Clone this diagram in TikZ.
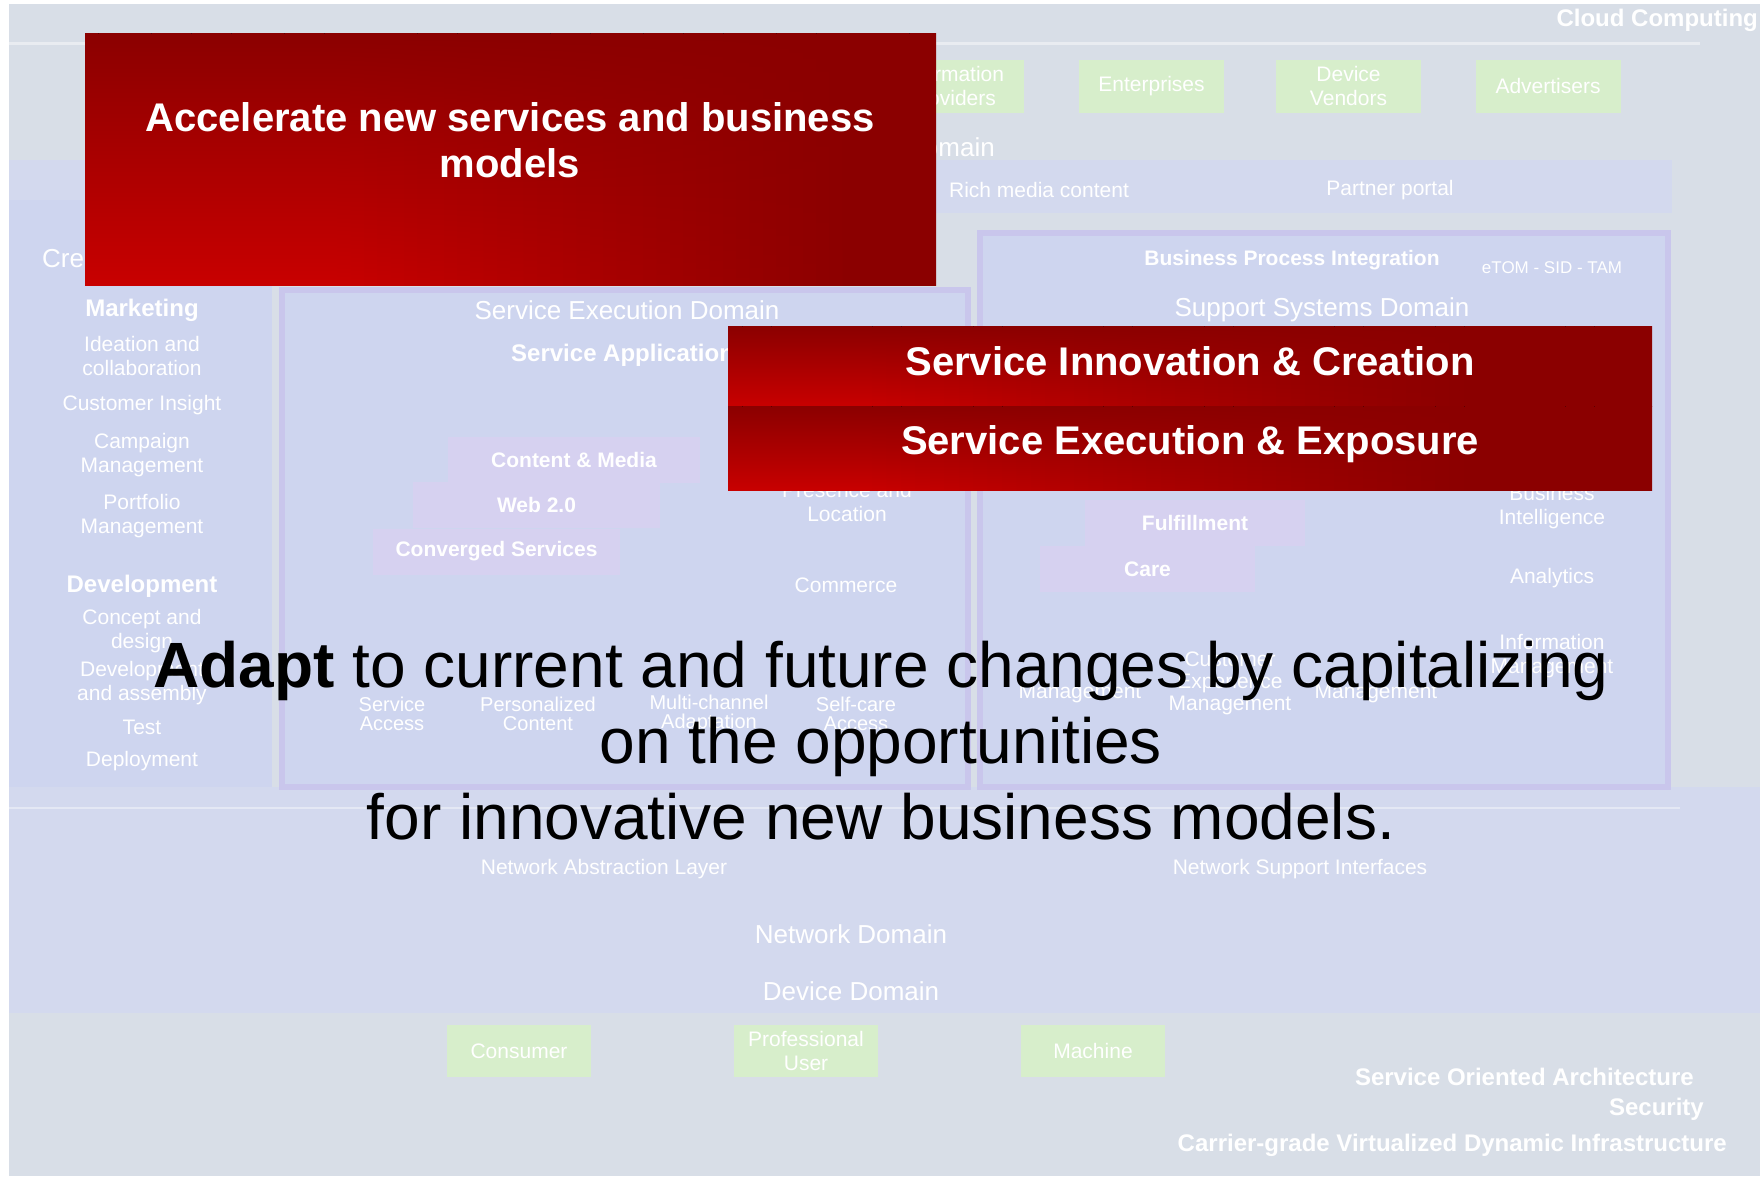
\documentclass[tikz,border=0pt]{standalone}
\usepackage{fontspec}
\setmainfont{Liberation Sans}
\usetikzlibrary{positioning,calc}

\definecolor{bggrey}{HTML}{D8DEE7}
\definecolor{bgblue}{HTML}{CED5EF}
\definecolor{bgband}{HTML}{D3D9EE}
\definecolor{lavline}{HTML}{C9C6EC}
\definecolor{pinkcell}{HTML}{D6D1F0}
\definecolor{greencell}{HTML}{D7EECB}
\definecolor{redlight}{HTML}{C80000}
\definecolor{reddark}{HTML}{8B0000}

\newcommand\pxfont[2]{\fontsize{#1}{#2}\selectfont}

\begin{document}
\begin{tikzpicture}[
    x=1pt, y=-1pt,
    faint/.style     ={text=white, align=center, inner sep=0pt, font=\pxfont{21}{24}},
    faintrow/.style  ={faint, font=\pxfont{20}{19}},
    domlabel/.style  ={faint, font=\pxfont{26}{30}},
    layerlabel/.style={faint, font=\pxfont{24}{28}\bfseries},
    actor/.style     ={rectangle, fill=greencell, text=white, align=center, inner sep=0pt,
                       minimum width=145pt, minimum height=53pt, font=\pxfont{21}{24}},
    cell/.style      ={rectangle, fill=pinkcell, text=white, inner sep=0pt,
                       minimum height=46pt, font=\pxfont{21}{24}\bfseries},
    banner/.style    ={rectangle, inner sep=0pt},
    redtext/.style   ={text=white, align=center, inner sep=0pt, font=\pxfont{40}{46}\bfseries}
]
\useasboundingbox (0,0) rectangle (1760,1178);

%–––– BACKGROUND –––––––––––––––––––––––––––––––––––––
\fill[bggrey] (9,4) rectangle (1760,1176);
\draw[white, line width=3pt, opacity=.45] (9,43) -- (1700,43);
\fill[bgband] (9,160) rectangle (1672,213);
\fill[bgband] (9,787) rectangle (1760,1013);
\fill[bgblue] (9,200) rectangle (272,787);
\filldraw[fill=bgblue, draw=lavline, line width=6pt] (282,290) rectangle (968,787);
\filldraw[fill=bgblue, draw=lavline, line width=6pt] (980,233) rectangle (1668,787);
\draw[white, line width=2pt, opacity=.4] (9,808) -- (1680,808);

%–––– ACTORS –––––––––––––––––––––––––––––––––––––––––
\node (cloud) [layerlabel, anchor=east] at (1758,20) {Cloud Computing};

\foreach \nm/\cx/\txt in {infoprov/951.5/{Information\\Providers}, enterp/1151.5/Enterprises,
                          devvend/1348.5/{Device\\Vendors}, advert/1548/Advertisers}
  \node (\nm) [actor] at (\cx,86) {\txt};

\node (expdom)    [domlabel, anchor=east] at (995,147) {Domain};
\node (richmedia) [faint] at (1039,190) {Rich media content};
\node (partner)   [faint] at (1390,190) {Partner portal};

%–––– CREATION DOMAIN ––––––––––––––––––––––––––––––––
\node (credom) [domlabel, anchor=west] at (42,258) {Creation Domain};
\node (mkt) [layerlabel] at (142,310) {Marketing};
\foreach \nm/\cy/\txt in {ideation/355.5/{Ideation and\\collaboration}, insight/405/{Customer Insight},
                          campaign/455/{Campaign\\Management}, portfolio/516/{Portfolio\\Management}}
  \node (\nm) [faint] at (142,\cy) {\txt};

\node (dev) [layerlabel] at (142,586) {Development};
\foreach \nm/\cy/\txt in {concept/631/{Concept and\\design}, assembly/683.5/{Development\\and assembly},
                          test/727/Test, deploy/761/Deployment}
  \node (\nm) [faint] at (142,\cy) {\txt};

%–––– EXECUTION DOMAIN –––––––––––––––––––––––––––––––
\node (exedom) [domlabel] at (627,310) {Service Execution Domain};
\node (svcapp) [layerlabel, anchor=west] at (511,355) {Service Applications};

\node (content) [cell, minimum width=252pt] at (574,459.5) {Content \& Media};
\node (web)     [cell, minimum width=247pt] at (536.5,505) {Web 2.0};
\node (conv)    [cell, minimum width=247pt] at (496.5,551.5) {Converged Services};

\node (presence) [faint] at (847,502) {Presence and\\Location};
\node (commerce) [faint] at (846,585) {Commerce};

\foreach \nm/\cx/\txt in {svcaccess/392/{Service\\Access}, perscont/538/{Personalized\\Content},
                          multich/709/{Multi-channel\\Adaptation}, selfcare/856/{Self-care\\Access}}
  \node (\nm) [faintrow] at (\cx,714) {\txt};

%–––– SUPPORT SYSTEMS DOMAIN –––––––––––––––––––––––––
\node (bpi)    [faint, font=\pxfont{21}{24}\bfseries] at (1292,260) {Business Process Integration};
\node (etom)   [faint, font=\pxfont{17}{20}] at (1552,268) {eTOM - SID - TAM};
\node (supdom) [domlabel] at (1322,310) {Support Systems Domain};

\node (fulfil) [cell, minimum width=220pt] at (1195,523) {Fulfillment};
\node (care)   [cell, minimum width=215pt] at (1147.5,569) {Care};

\node (bi)        [faint] at (1552,507) {Business\\Intelligence};
\node (analytics) [faint] at (1552,578) {Analytics};
\node (infomgmt)  [faint] at (1552,656) {Information\\Management};
\node (mgmta)     [faint] at (1080,693) {Management};
\node (cem)       [faint, font=\pxfont{21}{22}] at (1230,683) {Customer\\Experience\\Management};
\node (mgmtb)     [faint] at (1376,693) {Management};

%–––– NETWORK / DEVICE –––––––––––––––––––––––––––––––
\node (nal)    [faint] at (604,869)  {Network Abstraction Layer};
\node (nsi)    [faint] at (1300,869) {Network Support Interfaces};
\node (netdom) [domlabel] at (851,934) {Network Domain};
\node (devdom) [domlabel] at (851,991) {Device Domain};

\foreach \nm/\cx/\txt in {consumer/519/Consumer, profuser/806/{Professional\\User}, machine/1093/Machine}
  \node (\nm) [actor, minimum width=144pt, minimum height=52pt] at (\cx,1051) {\txt};

\node (soa)      [layerlabel, anchor=east] at (1694,1077) {Service Oriented Architecture};
\node (security) [layerlabel, anchor=east] at (1704,1109) {Security};
\node (carrier)  [layerlabel, anchor=east] at (1727,1145) {Carrier-grade Virtualized Dynamic Infrastructure};

%–––– RED BANNERS ––––––––––––––––––––––––––––––––––––
% dark along the top, bright towards the lower left corner
\foreach \bx/\by/\bw/\bh/\fe/\fs in {85/33/851/252/0.9/0.6, 728/326/924/80/0.8/0.65, 728/406/924/84/0.8/0.65} {
  \foreach \i in {0,...,63} {
    \pgfmathsetmacro\pct{max(0,min(100,100*(\fe-(\i+0.5)/64)/\fs))}
    \pgfmathsetmacro\xa{\bx+\i/64*\bw}
    \pgfmathsetmacro\xb{min(\bx+\bw,\bx+(\i+1)/64*\bw+1)}
    \fill[top color=reddark, bottom color=redlight!\pct!reddark] (\xa,\by) rectangle (\xb,\by+\bh);
  }
}
\node (accel)  [banner, minimum width=851pt, minimum height=252pt] at (510.5,159) {};
\node (innov)  [banner, minimum width=924pt, minimum height=80pt]  at (1190,366) {};
\node (expose) [banner, minimum width=924pt, minimum height=84pt]  at (1190,448) {};

\node (acceltext)  [redtext] at (510,140.5) {Accelerate new services and business\\models};
\node (innovtext)  [redtext, anchor=base] at (1190,375) {Service Innovation \& Creation};
\node (exposetext) [redtext, anchor=base] at (1190,454) {Service Execution \& Exposure};

%–––– MESSAGE ––––––––––––––––––––––––––––––––––––––––
\node (adapt) [align=center, inner sep=0pt, text=black, font=\pxfont{64}{76}] at (881,740.5)
  {\textbf{Adapt} to current and future changes by capitalizing\\on the opportunities\\for innovative new business models.};
\end{tikzpicture}
\end{document}
